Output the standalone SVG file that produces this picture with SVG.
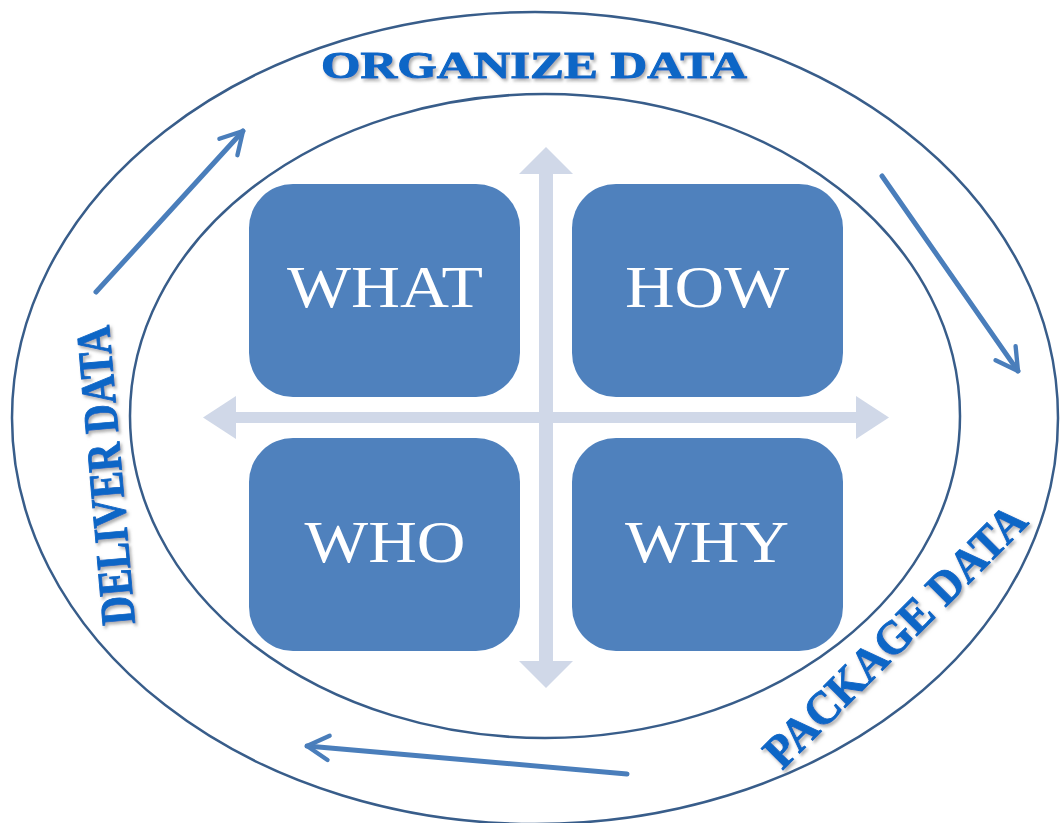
<svg xmlns="http://www.w3.org/2000/svg" width="1061" height="823" viewBox="0 0 1061 823">
  <style>
    .ring { fill: none; stroke: #385D8A; stroke-width: 2.5; }
    .box { fill: #4F81BD; }
    .boxlabel { font-family: "Liberation Serif", "Times New Roman", serif; font-size: 59px; fill: #FFFFFF; text-anchor: middle; }
    .cross { fill: #D0D8E8; }
    .step { font-family: "Liberation Serif", "Times New Roman", serif; font-weight: bold; fill: #0866C6; stroke: #0866C6; stroke-width: 0.9; text-anchor: middle; }
    .flow { fill: none; stroke: #4A7EBB; stroke-width: 5; stroke-linecap: round; }
  </style>
  <defs>
    <filter id="shadow" x="-10%" y="-20%" width="120%" height="140%">
      <feDropShadow dx="2" dy="2.5" stdDeviation="1.6" flood-color="#7A7A7A" flood-opacity="0.6"/>
    </filter>
    <marker id="openhead" viewBox="0 0 12 12" refX="10" refY="6" markerWidth="6.5" markerHeight="6.5" markerUnits="strokeWidth" orient="auto">
      <path d="M2,1.5 L10,6 L2,10.5" fill="none" stroke="#4A7EBB" stroke-width="1.6" stroke-linecap="round" stroke-linejoin="round"/>
    </marker>
  </defs>

  <rect width="1061" height="823" fill="#FFFFFF"/>

  <!-- rings -->
  <g id="rings">
    <ellipse class="ring" cx="535" cy="418" rx="523" ry="406"/>
    <ellipse class="ring" cx="545" cy="416" rx="415" ry="322"/>
  </g>

  <!-- crosshair double arrows -->
  <g id="crosshair" class="cross">
    <rect x="539" y="172" width="14" height="491"/>
    <polygon points="546,147 573,174 519,174"/>
    <polygon points="546,688 573,661 519,661"/>
    <rect x="234" y="412" width="624" height="11"/>
    <polygon points="203,417.5 236,396 236,439"/>
    <polygon points="889,417.5 856,396 856,439"/>
  </g>

  <!-- quadrant boxes -->
  <g id="what">
    <rect class="box" x="249" y="184" width="271" height="213" rx="44" ry="44"/>
    <text class="boxlabel" x="385" y="307" textLength="196" lengthAdjust="spacingAndGlyphs">WHAT</text>
  </g>
  <g id="how">
    <rect class="box" x="572" y="184" width="271" height="213" rx="44" ry="44"/>
    <text class="boxlabel" x="707" y="307" textLength="164" lengthAdjust="spacingAndGlyphs">HOW</text>
  </g>
  <g id="who">
    <rect class="box" x="249" y="438" width="271" height="213" rx="44" ry="44"/>
    <text class="boxlabel" x="385" y="562" textLength="161" lengthAdjust="spacingAndGlyphs">WHO</text>
  </g>
  <g id="why">
    <rect class="box" x="572" y="438" width="271" height="213" rx="44" ry="44"/>
    <text class="boxlabel" x="707" y="562" textLength="164" lengthAdjust="spacingAndGlyphs">WHY</text>
  </g>

  <!-- cycle step labels -->
  <g id="organize" filter="url(#shadow)">
    <text class="step" x="534" y="78" font-size="38" textLength="426" lengthAdjust="spacingAndGlyphs">ORGANIZE DATA</text>
  </g>
  <g id="package" filter="url(#shadow)">
    <text class="step" font-size="47" textLength="350" lengthAdjust="spacingAndGlyphs" transform="translate(906,647) rotate(-45)">PACKAGE DATA</text>
  </g>
  <g id="deliver" filter="url(#shadow)">
    <text class="step" font-size="49" textLength="300" lengthAdjust="spacingAndGlyphs" transform="translate(122,474) rotate(-95)">DELIVER DATA</text>
  </g>

  <!-- cycle arrows -->
  <g id="connectors">
    <line class="flow" x1="96" y1="292" x2="243" y2="131" marker-end="url(#openhead)"/>
    <line class="flow" x1="882" y1="176" x2="1018" y2="371" marker-end="url(#openhead)"/>
    <line class="flow" x1="627" y1="774" x2="307" y2="746" marker-end="url(#openhead)"/>
  </g>
</svg>
